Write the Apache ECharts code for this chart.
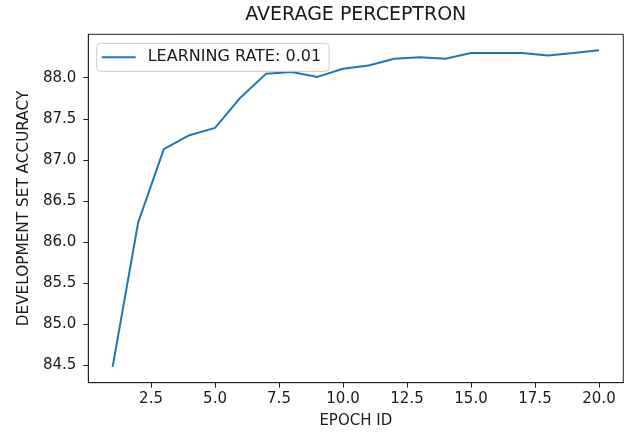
<!DOCTYPE html>
<html>
<head>
<meta charset="utf-8">
<script src="https://cdn.jsdelivr.net/npm/echarts@6/dist/echarts.min.js"></script>
<style>
  html, body { margin: 0; padding: 0; background: #fff; }
  #chart { width: 627px; height: 437px; }
</style>
</head>
<body>
<div id="chart"></div>
<script>
// Development-set accuracy per epoch for the averaged perceptron
const epochs = [1, 2, 3, 4, 5, 6, 7, 8, 9, 10, 11, 12, 13, 14, 15, 16, 17, 18, 19, 20];
const accuracy = [84.48, 86.24, 87.13, 87.30, 87.39, 87.76, 88.05, 88.07, 88.01, 88.11,
                  88.15, 88.23, 88.25, 88.23, 88.30, 88.30, 88.30, 88.27, 88.30, 88.336];
const seriesName = 'LEARNING RATE: 0.01';
const xTicks = [2.5, 5.0, 7.5, 10.0, 12.5, 15.0, 17.5, 20.0];
const yTicks = [84.5, 85.0, 85.5, 86.0, 86.5, 87.0, 87.5, 88.0];

// 5% padding around the data range on both axes
function padded(values) {
  const lo = Math.min(...values), hi = Math.max(...values);
  const m = (hi - lo) * 0.05;
  return [lo - m, hi + m];
}
const [xMin, xMax] = padded(epochs);
const [yMin, yMax] = padded(accuracy);

const FONT = 'DejaVu Sans';
const TEXT = '#1a1a1a';
const AXIS = '#222';
const LINE = '#1f77b4';

const chart = echarts.init(document.getElementById('chart'));
chart.setOption({
  animation: false,
  backgroundColor: '#fff',
  title: {
    text: 'AVERAGE PERCEPTRON',
    left: 355.8,
    top: 6,
    padding: 0,
    textAlign: 'center',
    textStyle: { fontFamily: FONT, fontSize: 19, fontWeight: 'normal', color: TEXT }
  },
  grid: {
    left: 88.3, right: 3.7, top: 34.3, bottom: 54.3,
    show: true, borderColor: AXIS, borderWidth: 1, backgroundColor: 'transparent'
  },
  legend: {
    left: 96.7, top: 43.3,
    orient: 'vertical',
    backgroundColor: 'rgba(255,255,255,0.8)',
    borderColor: '#cccccc', borderWidth: 1, borderRadius: 4,
    padding: [6, 8, 6, 4],
    itemWidth: 34, itemHeight: 14,
    // line-only key: hide the marker the line legend draws by default
    itemStyle: { opacity: 0 },
    lineStyle: { color: LINE, width: 2 },
    textStyle: { fontFamily: FONT, fontSize: 16, color: TEXT, padding: [0, 0, 0, 7] },
    data: [seriesName]
  },
  xAxis: {
    type: 'value',
    min: xMin, max: xMax,
    name: 'EPOCH ID',
    nameLocation: 'middle',
    nameGap: 31,
    nameTextStyle: { fontFamily: FONT, fontSize: 15, color: TEXT },
    axisLine: { show: true, onZero: false, lineStyle: { color: AXIS, width: 1 } },
    axisTick: { show: true, length: 5, inside: false, customValues: xTicks, lineStyle: { color: AXIS } },
    axisLabel: {
      customValues: xTicks, margin: 9,
      fontFamily: FONT, fontSize: 15, color: TEXT,
      formatter: v => v.toFixed(1)
    },
    splitLine: { show: false }
  },
  yAxis: {
    type: 'value',
    min: yMin, max: yMax,
    name: 'DEVELOPMENT SET ACCURACY',
    nameLocation: 'middle',
    nameGap: 56,
    nameTextStyle: { fontFamily: FONT, fontSize: 15.3, color: TEXT },
    axisLine: { show: true, onZero: false, lineStyle: { color: AXIS, width: 1 } },
    axisTick: { show: true, length: 5, inside: false, customValues: yTicks, lineStyle: { color: AXIS } },
    axisLabel: {
      customValues: yTicks, margin: 12,
      fontFamily: FONT, fontSize: 15, color: TEXT,
      formatter: v => v.toFixed(1)
    },
    splitLine: { show: false }
  },
  series: [{
    name: seriesName,
    type: 'line',
    data: epochs.map((e, i) => [e, accuracy[i]]),
    symbol: 'none',
    lineStyle: { color: LINE, width: 2 },
    itemStyle: { color: LINE }
  }]
});
</script>
</body>
</html>
